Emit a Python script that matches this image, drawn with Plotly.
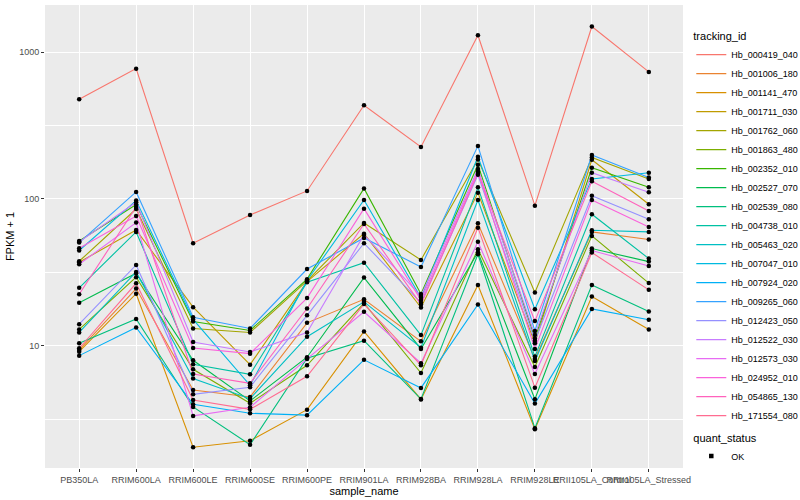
import plotly.graph_objects as go

samples = ["PB350LA", "RRIM600LA", "RRIM600LE", "RRIM600SE", "RRIM600PE", "RRIM901LA",
           "RRIM928BA", "RRIM928LA", "RRIM928LE", "RRII105LA_Control", "RRII105LA_Stressed"]

tracking_ids = ["Hb_000419_040", "Hb_001006_180", "Hb_001141_470", "Hb_001711_030", "Hb_001762_060",
                "Hb_001863_480", "Hb_002352_010", "Hb_002527_070", "Hb_002539_080", "Hb_004738_010",
                "Hb_005463_020", "Hb_007047_010", "Hb_007924_020", "Hb_009265_060", "Hb_012423_050",
                "Hb_012522_030", "Hb_012573_030", "Hb_024952_010", "Hb_054865_130", "Hb_171554_080"]

# FPKM + 1 per sample (same order as samples)
hb_000419_040 = [478, 773, 49.9, 77.8, 113.4, 435, 226, 1306, 90, 1497, 734]
hb_001006_180 = [9.35, 24.5, 4.99, 4.47, 14.3, 20.7, 10.7, 68.2, 8.12, 59.6, 52.9]
hb_001141_470 = [9.1, 22.6, 2.03, 2.25, 3.66, 12.5, 4.3, 25.9, 2.69, 21.6, 12.9]
hb_001711_030 = [37, 61.5, 18.3, 7.42, 27.3, 58, 18.2, 110, 10.4, 185, 92]
hb_001762_060 = [37.6, 85.4, 13.1, 12.3, 27.6, 68.6, 38.4, 186, 23.0, 192, 137]
hb_001863_480 = [12.9, 29.3, 6.9, 4.05, 7.35, 19.5, 6.51, 45.4, 7.16, 56, 26.7]
hb_002352_010 = [51.7, 91.5, 14.6, 12.7, 28.4, 118, 22.5, 171, 11.2, 163, 120]
hb_002527_070 = [19.6, 31.2, 7.95, 4.2, 8.34, 29.1, 9.5, 43.3, 4.31, 45.9, 37.4]
hb_002539_080 = [10.4, 15.2, 3.82, 2.11, 8.2, 10.8, 4.32, 42, 2.74, 25.9, 17.1]
hb_004738_010 = [24.8, 59.6, 7.47, 6.38, 27.1, 36.8, 11.8, 120, 8.42, 78.7, 39.2]
hb_005463_020 = [12.3, 31.8, 5.96, 4.35, 11.5, 19.9, 9.69, 98.4, 7.87, 61.2, 59.6]
hb_007047_010 = [44.5, 97.4, 15.1, 5.37, 27.8, 98.4, 21.2, 194, 17.7, 137, 151]
hb_007924_020 = [8.55, 13.3, 3.98, 3.46, 3.36, 8.0, 5.15, 19.1, 4.03, 17.8, 15.0]
hb_009265_060 = [50.4, 111.6, 15.6, 13.1, 33.3, 54.2, 34.4, 230, 12.6, 199, 140]
hb_012423_050 = [14.0, 35.5, 4.66, 5.21, 16.1, 49.9, 19.6, 146, 10.8, 105, 72.8]
hb_012522_030 = [51, 95, 10.6, 9.06, 12.3, 57, 21.8, 160, 11.8, 151, 111]
hb_012573_030 = [35.9, 69, 3.32, 3.80, 8.12, 17.0, 7.59, 51.1, 6.41, 44.5, 34.9]
hb_024952_010 = [46.1, 76.6, 9.64, 8.82, 21.1, 85.9, 20.5, 154, 9.5, 98.4, 64.4]
hb_054865_130 = [22.4, 88.2, 6.41, 5.54, 17.9, 67.5, 19.1, 150, 14.7, 132, 82.8]
hb_171554_080 = [9.6, 26.6, 4.26, 3.68, 6.18, 19.2, 7.35, 63.7, 5.17, 43.1, 24.0]

series_values = [hb_000419_040, hb_001006_180, hb_001141_470, hb_001711_030, hb_001762_060,
                 hb_001863_480, hb_002352_010, hb_002527_070, hb_002539_080, hb_004738_010,
                 hb_005463_020, hb_007047_010, hb_007924_020, hb_009265_060, hb_012423_050,
                 hb_012522_030, hb_012573_030, hb_024952_010, hb_054865_130, hb_171554_080]

quant_status = ["OK"]

colors = ["#F8766D", "#EA8331", "#D89000", "#C09B00", "#A3A500", "#7CAE00", "#39B600", "#00BB4E",
          "#00BF7D", "#00C1A3", "#00BFC4", "#00BAE0", "#00B0F6", "#35A2FF", "#9590FF", "#C77CFF",
          "#E76BF3", "#FA62DB", "#FF62BC", "#FF6C91"]

FONT = "Liberation Sans, Arial, sans-serif"

fig = go.Figure()
for name, vals, col in zip(tracking_ids, series_values, colors):
    fig.add_trace(go.Scatter(x=samples, y=vals, mode="lines", name=name,
                             line=dict(color=col, width=1.1), legend="legend"))

all_x = [s for vals in series_values for s in samples]
all_y = [v for vals in series_values for v in vals]
fig.add_trace(go.Scatter(x=all_x, y=all_y, mode="markers", showlegend=False,
                         marker=dict(color="black", size=4.5), hoverinfo="skip"))
fig.add_trace(go.Scatter(x=[None], y=[None], mode="markers", name=quant_status[0],
                         marker=dict(color="black", size=4.5, symbol="square"), legend="legend2"))

# plot area: x 45..683, y 5..468 (pixels)
fig.update_layout(
    width=800, height=500,
    margin=dict(l=45, r=117, t=5, b=32, autoexpand=False),
    paper_bgcolor="white", plot_bgcolor="#EBEBEB",
    font=dict(family=FONT, size=11, color="black"),
    legend=dict(title=dict(text="tracking_id", font=dict(size=11)), font=dict(size=9),
                x=1.013, xanchor="left", y=0.955, yanchor="top", tracegroupgap=0,
                bgcolor="rgba(0,0,0,0)", itemwidth=30),
    legend2=dict(title=dict(text="quant_status", font=dict(size=11)), font=dict(size=9),
                 x=1.013, xanchor="left", y=0.088, yanchor="top",
                 bgcolor="rgba(0,0,0,0)", itemwidth=30),
)

fig.update_xaxes(type="category", categoryorder="array", categoryarray=samples,
                 range=[-0.6, 10.6], showgrid=True, gridcolor="white", gridwidth=1.1,
                 ticks="outside", ticklen=3, tickcolor="#333333", tickwidth=1,
                 tickfont=dict(size=9, color="#4D4D4D"), tickangle=0, automargin=False,
                 title=dict(text="sample_name", font=dict(size=11), standoff=1),
                 zeroline=False, showline=False)
fig.update_yaxes(type="log", range=[0.166, 3.322], tickvals=[10, 100, 1000], ticktext=["10", "100", "1000"],
                 showgrid=True, gridcolor="white", gridwidth=1.1,
                 minor=dict(tickvals=[3.1623, 31.623, 316.23], showgrid=True, gridcolor="white",
                            gridwidth=0.55, ticks=""),
                 ticks="outside", ticklen=3, tickcolor="#333333", tickwidth=1,
                 tickfont=dict(size=9, color="#4D4D4D"), automargin=False,
                 title=dict(text="FPKM + 1", font=dict(size=11), standoff=2),
                 zeroline=False, showline=False)

fig.write_html("out.html", post_script="document.body.style.margin='0';",
               config={"displayModeBar": False})
